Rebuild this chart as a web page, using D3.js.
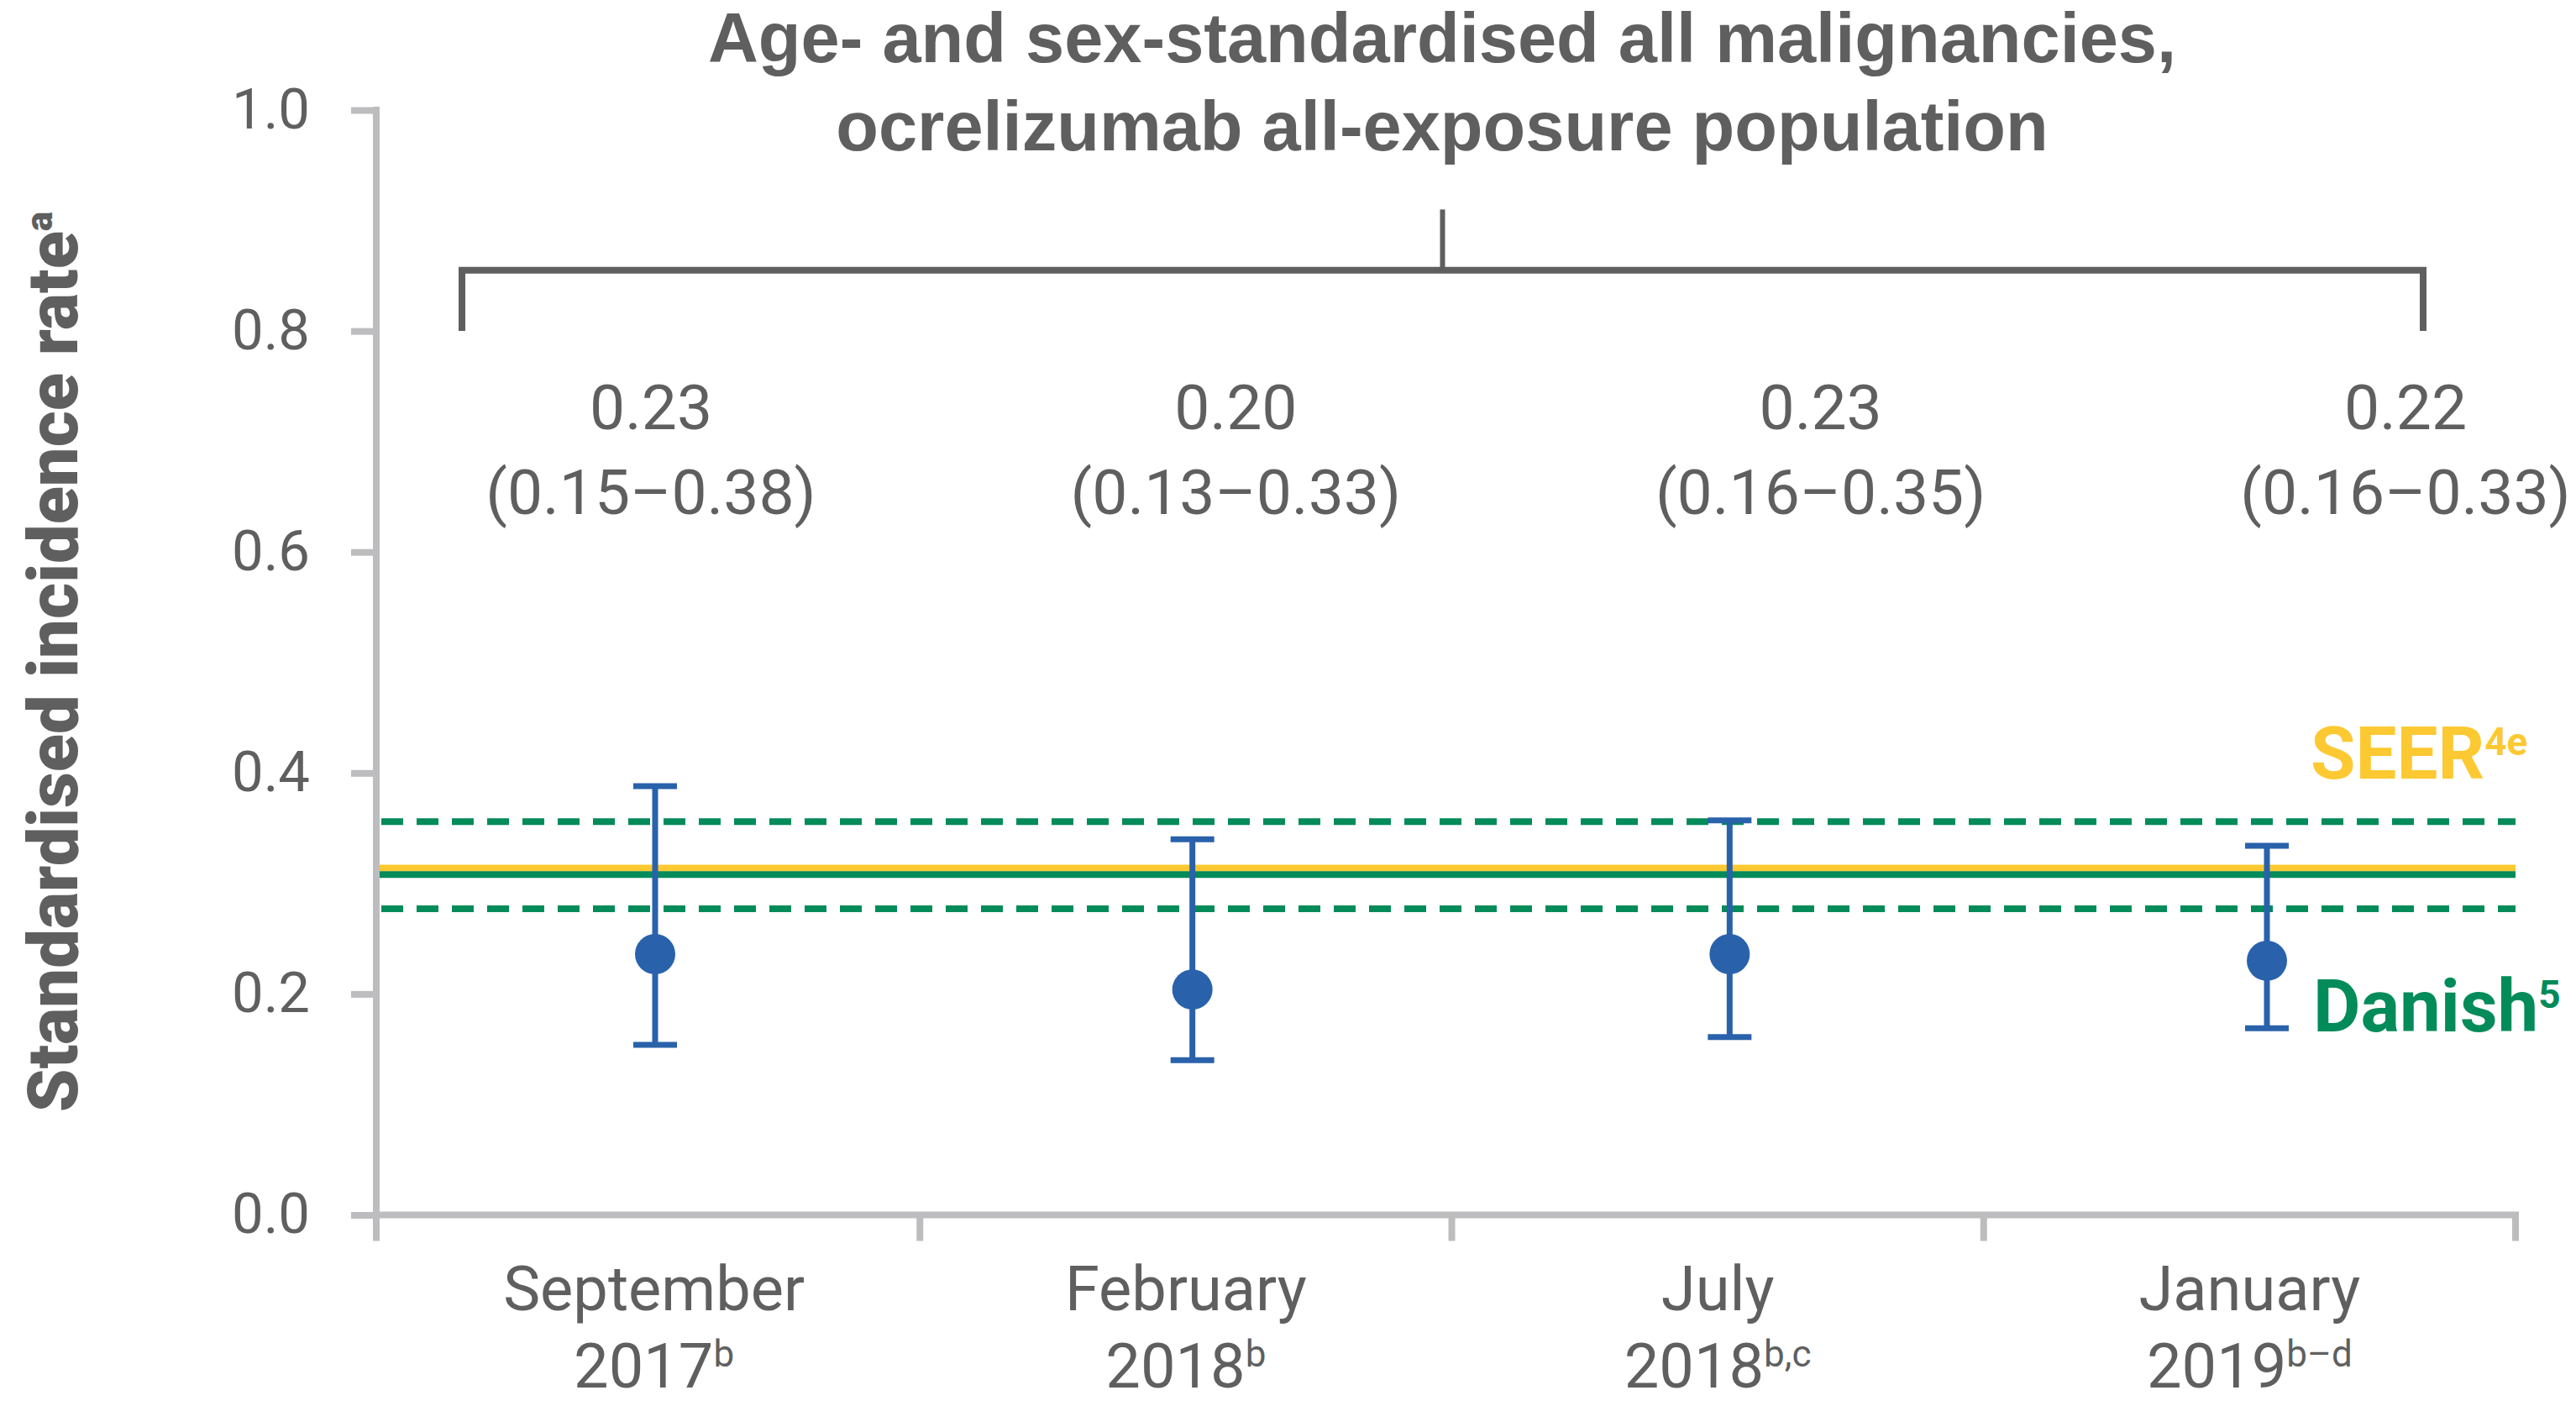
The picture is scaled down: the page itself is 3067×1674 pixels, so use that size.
<!DOCTYPE html>
<html>
<head>
<meta charset="utf-8">
<script src="https://cdn.jsdelivr.net/npm/d3@7"></script>
<style>
  html, body { margin: 0; padding: 0; background: #ffffff; }
  svg { display: block; }
</style>
</head>
<body>
<svg id="chart" width="3067" height="1674"></svg>
<script>
// ---------------- DATA ----------------
const categories   = ["Sep 2017", "Feb 2018", "Jul 2018", "Jan 2019"];
const catMonth     = ["September", "February", "July", "January"];
const catYear      = ["2017", "2018", "2018", "2019"];
const catSup       = ["b", "b", "b,c", "b\u2013d"];
const sirValues    = [0.236, 0.204, 0.236, 0.230];
const ciLow        = [0.154, 0.140, 0.161, 0.169];
const ciHigh       = [0.388, 0.340, 0.357, 0.334];
const sirLabels    = ["0.23", "0.20", "0.23", "0.22"];
const ciLabels     = ["(0.15\u20130.38)", "(0.13\u20130.33)", "(0.16\u20130.35)", "(0.16\u20130.33)"];
const seerRate     = [0.314];
const danishRate   = [0.308];
const danishCI     = [0.277, 0.356];
const yTicks       = [0, 0.2, 0.4, 0.6, 0.8, 1.0];
const titleLines   = ["Age- and sex-standardised all malignancies,", "ocrelizumab all-exposure population"];
const yTitle       = "Standardised incidence rate";
const yTitleSup    = "a";

// ---------------- STYLE ----------------
const TXT = "#5f5f5f", AXIS = "#bdbdbf", BLUE = "#2962ab", YELLOW = "#fcc932", GREEN = "#038b59";
const FONT = "Roboto, 'Liberation Sans', Arial, sans-serif";
const FONT_TITLE = "'Liberation Sans', Arial, sans-serif";
const W_REG = 400;

const svg = d3.select("#chart");
const yAxisX = 448;
const y = d3.scaleLinear().domain([0, 1]).range([1446.5, 131]);
const x = d3.scaleBand().domain(categories).range([462, 2995]);
const xMark = d3.scalePoint().domain(categories).range([780, 2699]);
const annX = d3.scalePoint().domain(categories).range([775, 2864]);
const data = categories.map((c, i) => ({c, v: sirValues[i], lo: ciLow[i], hi: ciHigh[i]}));

// ---------------- TITLE ----------------
svg.selectAll("text.title").data(titleLines).join("text")
  .attr("class", "title")
  .attr("x", 1717).attr("y", (d, i) => 74 + i * 104.5)
  .attr("text-anchor", "middle")
  .attr("font-family", FONT_TITLE).attr("font-weight", 700).attr("font-size", 83)
  .attr("fill", TXT).text(d => d);

// bracket
const bL = x.range()[0] + 88, bR = x.range()[1] - 110, bTop = y(0.855);
svg.append("path")
  .attr("d", `M${bL},${y(0.8)} V${bTop} H${bR} V${y(0.8)}`)
  .attr("fill", "none").attr("stroke", TXT).attr("stroke-width", 8).attr("stroke-linejoin", "miter");
svg.append("line")
  .attr("x1", (bL + bR) / 2).attr("x2", (bL + bR) / 2)
  .attr("y1", y(0.91)).attr("y2", bTop)
  .attr("stroke", TXT).attr("stroke-width", 6);

// ---------------- Y AXIS ----------------
const yAxis = svg.append("g").attr("transform", `translate(${yAxisX},0)`)
  .call(d3.axisLeft(y).tickValues(yTicks).tickFormat(d3.format(".1f")).tickSize(30).tickPadding(49));
yAxis.select(".domain").remove();
yAxis.selectAll(".tick line").attr("stroke", AXIS).attr("stroke-width", 8);
yAxis.selectAll(".tick text")
  .attr("font-family", FONT).attr("font-weight", W_REG).attr("font-size", 67).attr("fill", TXT);
svg.append("line")
  .attr("x1", yAxisX).attr("x2", yAxisX)
  .attr("y1", y(1) - 4).attr("y2", y(0) + 31)
  .attr("stroke", AXIS).attr("stroke-width", 8);

// y title
const yt = svg.append("text")
  .attr("transform", `translate(92,788) rotate(-90)`)
  .attr("text-anchor", "middle")
  .attr("font-family", FONT).attr("font-weight", 900).attr("font-size", 83)
  .attr("fill", TXT);
yt.append("tspan").text(yTitle);
yt.append("tspan").attr("font-size", 44).attr("dy", -30).text(yTitleSup);

// ---------------- X AXIS ----------------
svg.append("line")
  .attr("x1", yAxisX).attr("x2", x.range()[1] + 4)
  .attr("y1", y(0)).attr("y2", y(0))
  .attr("stroke", AXIS).attr("stroke-width", 8);
const bounds = categories.slice(1).map(c => x(c)).concat([x.range()[1]]);
svg.selectAll("line.xtick").data(bounds).join("line")
  .attr("class", "xtick")
  .attr("x1", d => d).attr("x2", d => d)
  .attr("y1", y(0)).attr("y2", y(0) + 31)
  .attr("stroke", AXIS).attr("stroke-width", 8);

const xl = svg.selectAll("g.xlab").data(categories).join("g")
  .attr("class", "xlab")
  .attr("transform", d => `translate(${x(d) + x.bandwidth() / 2},0)`);
xl.append("text")
  .attr("y", 1560).attr("text-anchor", "middle")
  .attr("font-family", FONT).attr("font-weight", W_REG).attr("font-size", 74).attr("fill", TXT)
  .text((d, i) => catMonth[i]);
const yr = xl.append("text")
  .attr("y", 1652).attr("text-anchor", "middle")
  .attr("font-family", FONT).attr("font-weight", W_REG).attr("font-size", 74).attr("fill", TXT);
yr.append("tspan").text((d, i) => catYear[i]);
yr.append("tspan").attr("font-size", 44).attr("dy", -25).text((d, i) => catSup[i]);

// ---------------- ANNOTATIONS ----------------
svg.selectAll("text.sir").data(categories).join("text")
  .attr("class", "sir")
  .attr("x", d => annX(d)).attr("y", 511).attr("text-anchor", "middle")
  .attr("font-family", FONT).attr("font-weight", W_REG).attr("font-size", 75).attr("fill", TXT)
  .text((d, i) => sirLabels[i]);
svg.selectAll("text.ci").data(categories).join("text")
  .attr("class", "ci")
  .attr("x", d => annX(d)).attr("y", 612).attr("text-anchor", "middle")
  .attr("font-family", FONT).attr("font-weight", W_REG).attr("font-size", 75).attr("fill", TXT)
  .text((d, i) => ciLabels[i]);

// ---------------- REFERENCE LINES ----------------
const lx0 = yAxisX + 4, lx1 = x.range()[1];
svg.selectAll("line.seer").data(seerRate).join("line")
  .attr("class", "seer")
  .attr("x1", lx0).attr("x2", lx1).attr("y1", d => y(d)).attr("y2", d => y(d))
  .attr("stroke", YELLOW).attr("stroke-width", 8);
svg.selectAll("line.danish").data(danishRate).join("line")
  .attr("class", "danish")
  .attr("x1", lx0).attr("x2", lx1).attr("y1", d => y(d)).attr("y2", d => y(d))
  .attr("stroke", GREEN).attr("stroke-width", 8);
svg.selectAll("line.danishci").data(danishCI).join("line")
  .attr("class", "danishci")
  .attr("x1", lx0 + 2).attr("x2", lx1).attr("y1", d => y(d)).attr("y2", d => y(d))
  .attr("stroke", GREEN).attr("stroke-width", 8).attr("stroke-dasharray", "26,16");

// labels for ref lines
const seerT = svg.append("text")
  .attr("x", lx1 - 244).attr("y", y(seerRate[0]) - 106)
  .attr("font-family", FONT).attr("font-weight", 700).attr("font-size", 87).attr("fill", YELLOW);
seerT.append("tspan").text("SEER");
seerT.append("tspan").attr("font-size", 46).attr("dy", -28).text("4e");
const danT = svg.append("text")
  .attr("x", lx1 - 241).attr("y", y(danishRate[0]) + 187)
  .attr("font-family", FONT).attr("font-weight", 700).attr("font-size", 87).attr("fill", GREEN);
danT.append("tspan").text("Danish");
danT.append("tspan").attr("font-size", 46).attr("dy", -28).text("5");

// ---------------- ERROR BARS + POINTS ----------------
const cx = d => xMark(d.c);
const eb = svg.selectAll("g.eb").data(data).join("g").attr("class", "eb");
eb.append("line")
  .attr("x1", cx).attr("x2", cx).attr("y1", d => y(d.lo)).attr("y2", d => y(d.hi))
  .attr("stroke", BLUE).attr("stroke-width", 7);
eb.append("line")
  .attr("x1", d => cx(d) - 26).attr("x2", d => cx(d) + 26).attr("y1", d => y(d.hi)).attr("y2", d => y(d.hi))
  .attr("stroke", BLUE).attr("stroke-width", 7);
eb.append("line")
  .attr("x1", d => cx(d) - 26).attr("x2", d => cx(d) + 26).attr("y1", d => y(d.lo)).attr("y2", d => y(d.lo))
  .attr("stroke", BLUE).attr("stroke-width", 7);
eb.append("circle")
  .attr("cx", cx).attr("cy", d => y(d.v)).attr("r", 24)
  .attr("fill", BLUE);
</script>
</body>
</html>
